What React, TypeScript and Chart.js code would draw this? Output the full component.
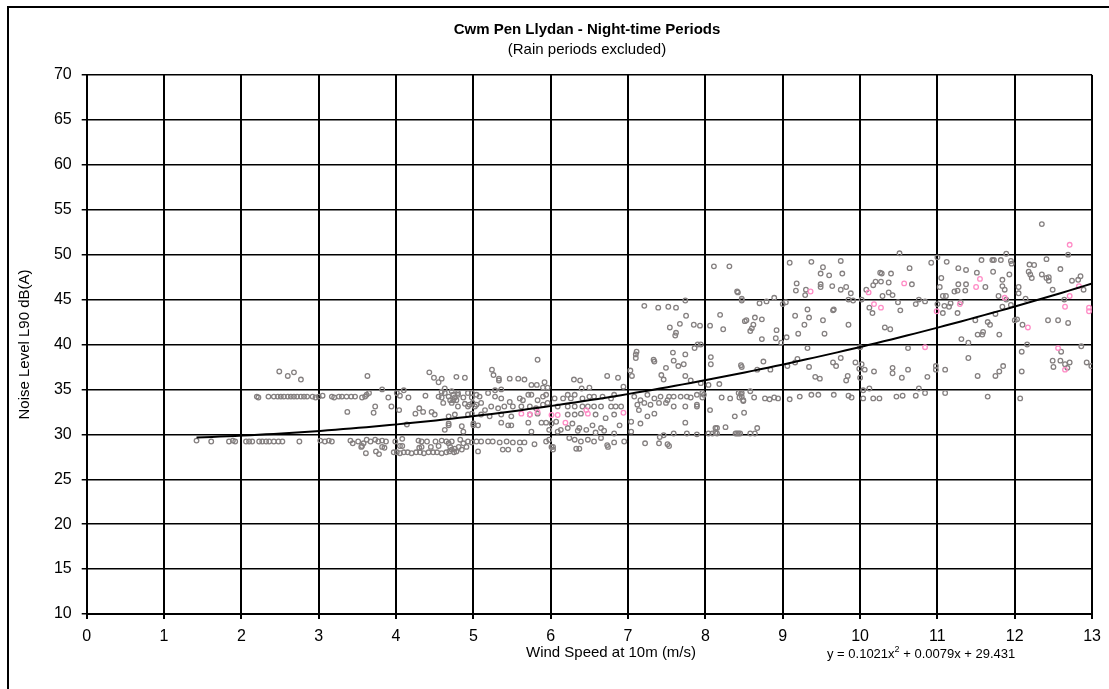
import React, { useEffect, useRef } from "react";
import { Chart, registerables } from "chart.js";

Chart.register(...registerables);

const TITLE = "Cwm Pen Llydan - Night-time Periods";
const SUBTITLE = "(Rain periods excluded)";
const X_TITLE = "Wind Speed at 10m (m/s)";
const Y_TITLE = "Noise Level L90 dB(A)";

const X_MIN = 0;
const X_MAX = 13;
const Y_MIN = 10;
const Y_MAX = 70;

// polynomial trend shown on the chart: y = a x^2 + b x + c
const TREND_A = 0.1021;
const TREND_B = 0.0079;
const TREND_C = 29.431;
const TREND_START = 1.42;

// measured periods: [wind speed m/s, L90 dB(A)]
const greyPoints: [number, number][] = [
  // ~29 dB row, low wind
  [1.42, 29.3], [1.61, 29.2], [1.84, 29.2], [1.89, 29.3], [1.92, 29.2], [2.06, 29.2], [2.10, 29.2], [2.14, 29.2],
  [2.23, 29.2], [2.27, 29.2], [2.32, 29.2], [2.36, 29.2], [2.42, 29.2], [2.48, 29.2], [2.53, 29.2], [2.75, 29.2],
  [3.02, 29.3], [3.08, 29.2], [3.13, 29.3], [3.17, 29.2], [3.41, 29.3], [3.44, 29.0], [3.51, 29.2], [3.62, 29.4],
  [3.67, 29.2], [3.73, 29.4], [3.77, 29.2], [3.82, 29.3], [3.87, 29.2], [3.99, 29.2], [4.08, 29.5], [4.29, 29.3],
  [4.33, 29.2], [4.40, 29.2], [4.51, 29.2], [4.59, 29.3], [4.65, 29.2],
  // ~28 dB row
  [3.61, 27.9], [3.74, 28.1], [3.78, 27.8], [3.97, 28.0], [4.01, 28.0], [4.05, 27.9], [4.10, 28.0], [4.15, 28.0],
  [4.20, 27.9], [4.26, 28.0], [4.31, 28.0], [4.36, 27.9], [4.42, 28.0], [4.48, 28.0], [4.53, 28.0], [4.59, 27.9],
  [4.65, 28.0], [4.69, 28.1], [4.75, 28.0], [3.55, 28.6], [3.85, 28.5], [4.05, 28.7], [4.30, 28.5], [4.45, 28.6],
  [3.58, 29.0], [3.56, 28.7], [3.82, 28.6], [4.08, 28.7], [4.33, 28.6], [4.55, 28.7],
  // ~34 dB row, low wind
  [2.20, 34.2], [2.22, 34.1], [2.35, 34.2], [2.42, 34.2], [2.47, 34.2], [2.51, 34.2], [2.55, 34.2], [2.60, 34.2],
  [2.64, 34.2], [2.68, 34.2], [2.72, 34.2], [2.77, 34.2], [2.81, 34.2], [2.85, 34.2], [2.92, 34.2], [2.96, 34.1],
  [3.00, 34.2], [3.05, 34.3], [3.17, 34.2], [3.20, 34.1], [3.26, 34.2], [3.30, 34.2], [3.36, 34.2], [3.42, 34.2],
  [3.47, 34.2], [3.56, 34.1], [3.60, 34.2], [3.62, 34.4], [3.65, 34.6], [3.82, 35.0], [3.90, 34.1], [4.01, 34.6],
  [4.05, 34.3], [4.10, 34.9], [4.16, 34.1], [4.38, 34.3], [4.55, 34.2], [4.59, 34.1], [4.63, 34.6], [4.68, 34.2],
  [4.72, 34.8], [4.76, 34.1], [4.80, 34.6], [4.87, 34.1], [4.93, 34.6], [4.98, 34.1], [5.04, 34.4],
  [4.59, 34.75], [4.63, 35.1], [4.70, 33.8], [4.74, 34.4], [4.78, 33.8], [4.89, 33.4], [4.95, 33.3], [4.99, 33.5],
  // upper scatter, low wind
  [2.49, 37.0], [2.60, 36.5], [2.68, 36.9], [2.77, 36.1], [3.63, 36.5], [4.43, 36.9], [4.49, 36.3], [4.55, 35.8],
  [4.59, 36.2], [4.78, 36.4], [4.89, 36.3],
  // middle scatter, low wind
  [3.37, 32.5], [3.73, 33.1], [3.71, 32.4], [3.94, 33.1], [4.04, 32.7], [4.14, 31.1], [4.25, 32.3], [4.30, 32.9],
  [4.35, 32.5], [4.46, 32.5], [4.50, 32.2], [4.61, 33.5], [4.68, 31.2], [4.63, 30.5], [4.85, 30.9], [4.87, 30.3],
  [4.93, 32.2], [5.00, 31.2], [5.04, 33.3],
  // 4.7 - 4.9 cluster
  [4.68, 29.0], [4.70, 28.6], [4.72, 28.3], [4.76, 28.4], [4.78, 28.1], [4.81, 28.6], [4.85, 28.3], [4.87, 29.0],
  [4.91, 28.6], [4.93, 29.2], [4.72, 29.2], [4.83, 29.4], [4.68, 31.0], [4.74, 33.8], [4.80, 34.4], [4.72, 33.5],
  [4.80, 33.1], [4.68, 32.0], [4.76, 32.2],
  // 5 - 8.5, 34 dB band
  [4.98, 34.6], [5.08, 34.2], [5.19, 34.6], [5.28, 34.9], [5.36, 35.0], [5.28, 34.2], [5.36, 34.0], [5.47, 33.6],
  [5.60, 34.0], [5.64, 33.8], [5.71, 34.4], [5.75, 34.4], [5.83, 33.8], [5.90, 34.2], [5.94, 34.4], [6.05, 34.0],
  [6.16, 34.0], [6.22, 34.4], [6.26, 34.0], [6.31, 34.4], [6.41, 34.0], [6.50, 34.2], [6.56, 34.2], [6.67, 34.2],
  [6.78, 34.0], [6.82, 34.4], [7.08, 34.2], [7.16, 33.8], [7.25, 34.4], [7.34, 34.0], [7.42, 34.2], [7.51, 33.8],
  [7.53, 34.2], [7.59, 34.2], [7.68, 34.2], [7.76, 34.2], [7.81, 34.1], [7.89, 34.4], [7.98, 34.4], [8.21, 34.1],
  [8.32, 34.0], [8.47, 34.6], [8.49, 33.8],
  // 33 dB band
  [4.93, 33.1], [5.02, 33.1], [5.10, 33.5], [5.15, 32.7], [5.23, 33.1], [5.32, 32.9], [5.40, 33.1], [5.51, 33.1],
  [5.62, 33.1], [5.73, 33.1], [5.81, 32.9], [5.90, 33.3], [5.96, 33.5], [6.09, 33.1], [6.22, 33.1], [6.31, 33.1],
  [6.41, 33.1], [6.48, 33.1], [6.56, 33.1], [6.65, 33.1], [6.78, 33.1], [6.84, 33.1], [6.91, 33.1], [7.12, 33.3],
  [7.21, 33.5], [7.29, 33.3], [7.40, 33.5], [7.49, 33.5], [7.59, 33.1], [7.74, 33.1], [7.89, 33.1], [8.06, 32.7],
  // 32 dB band
  [4.98, 32.3], [5.10, 32.2], [5.21, 32.0], [5.36, 32.2], [5.49, 32.0], [5.73, 32.2], [5.83, 32.3], [6.22, 32.2],
  [6.31, 32.2], [6.39, 32.3], [6.58, 32.2], [6.71, 31.8], [6.82, 32.2], [7.14, 32.7], [7.25, 32.0], [7.34, 32.3],
  // 31 dB band
  [5.00, 31.0], [5.06, 31.0], [5.36, 31.3], [5.45, 31.0], [5.49, 31.0], [5.71, 31.3], [5.88, 31.3], [5.94, 31.3],
  [6.01, 31.2], [6.07, 31.4], [6.28, 31.2], [6.37, 30.7], [6.54, 31.0], [6.65, 30.7], [6.89, 31.0], [7.04, 31.4],
  [7.16, 31.2], [7.74, 31.3], [8.13, 30.7], [8.26, 30.8],
  // 30 dB band
  [5.75, 30.3], [5.98, 30.5], [6.09, 30.3], [6.13, 30.5], [6.22, 30.7], [6.35, 30.4], [6.46, 30.5], [6.58, 30.2],
  [6.69, 30.4], [6.82, 30.1], [7.04, 30.3], [7.41, 29.7], [7.46, 29.9], [7.59, 30.1], [7.76, 30.1], [7.89, 30.0],
  [8.09, 30.1], [8.15, 30.1], [8.39, 30.1], [8.45, 30.1], [8.15, 30.7], [8.13, 30.2], [8.04, 30.1], [8.41, 30.1],
  [8.43, 30.1], [8.58, 30.1], [8.64, 30.1], [8.67, 30.7],
  // 29 dB band, mid wind
  [4.98, 29.1], [5.04, 29.2], [5.10, 29.2], [5.19, 29.2], [5.25, 29.2], [5.34, 29.1], [5.43, 29.2], [5.51, 29.1],
  [5.60, 29.1], [5.66, 29.1], [5.79, 28.9], [5.94, 29.2], [5.98, 29.4], [6.03, 28.6], [6.24, 29.6], [6.31, 29.4],
  [6.39, 29.2], [6.48, 29.4], [6.56, 29.2], [6.65, 29.6], [6.73, 28.8], [6.82, 29.1], [6.95, 29.2], [7.40, 29.0],
  [7.51, 28.9], [7.53, 28.7], [5.06, 28.1], [5.38, 28.3], [5.45, 28.3], [5.60, 28.3], [6.01, 28.6], [6.03, 28.3],
  [6.33, 28.4], [6.37, 28.4], [6.74, 28.6], [7.22, 29.0],
  // 35 - 40 dB, mid wind
  [5.24, 37.2], [5.26, 36.6], [5.33, 36.2], [5.33, 36.0], [5.47, 36.2], [5.58, 36.2], [5.66, 36.1], [5.83, 38.3],
  [5.92, 35.8], [5.75, 35.5], [5.82, 35.5], [5.90, 35.2], [5.96, 35.2], [6.30, 36.1], [6.38, 36.0], [6.40, 35.1],
  [6.50, 35.2], [6.73, 36.5], [6.87, 36.3], [6.94, 35.3], [7.03, 37.1], [7.05, 36.5], [7.11, 39.2], [7.10, 38.9],
  [7.10, 38.5], [7.33, 38.3], [7.34, 38.1], [7.49, 37.4], [7.43, 36.6], [7.46, 36.1], [7.58, 39.1], [7.59, 38.2],
  [7.65, 37.6], [7.72, 37.8], [7.74, 38.9], [7.86, 39.6], [7.90, 40.0], [7.94, 40.0], [7.74, 36.5], [7.81, 36.0],
  [7.94, 35.7], [8.07, 38.6], [8.07, 37.8], [8.46, 37.7], [8.04, 35.5], [8.18, 35.6],
  // 7 - 8.5 high band
  [7.21, 44.3], [7.39, 44.1], [7.52, 44.2], [7.62, 44.1], [7.74, 44.9], [7.75, 43.2], [7.67, 42.3], [7.54, 41.9],
  [7.62, 41.3], [7.61, 41.0], [7.85, 42.2], [7.93, 42.1], [8.06, 42.1], [8.19, 43.3], [8.23, 41.7], [8.51, 42.6],
  [8.11, 48.7], [8.31, 48.7], [8.42, 45.8], [8.47, 45.1], [8.47, 37.5], [7.96, 34.6], [7.96, 34.1], [7.89, 33.3],
  [8.44, 34.1], [8.46, 34.5], [8.49, 33.7], [8.58, 34.8], [8.38, 32.0], [8.50, 32.4],
  // 9 - 12, 45 - 50 dB
  [9.09, 49.1], [9.37, 49.2], [9.52, 48.6], [9.49, 47.9], [9.60, 47.7], [9.75, 49.3], [9.77, 47.9], [9.18, 46.8],
  [9.17, 46.0], [9.30, 46.1], [9.29, 45.5], [9.49, 46.7], [9.49, 46.4], [9.64, 46.5], [9.75, 46.1], [9.82, 46.4],
  [9.88, 45.7], [9.85, 45.0], [9.91, 44.9], [10.08, 46.1], [10.17, 46.6], [10.20, 47.0], [10.26, 48.0], [10.28, 47.9],
  [10.40, 47.9], [10.27, 47.0], [10.37, 46.9], [10.51, 50.15], [10.64, 48.5], [10.67, 46.7], [10.29, 45.4], [10.37, 45.8],
  [10.42, 45.5], [10.76, 45.0], [10.84, 44.8], [10.92, 49.1], [11.00, 49.7], [11.12, 49.2], [11.05, 47.4], [11.03, 46.4],
  [11.07, 45.4], [11.11, 45.4], [11.22, 45.9], [11.26, 46.0], [11.27, 46.7], [11.37, 46.7], [11.36, 46.0], [11.27, 48.5],
  [11.37, 48.3], [11.51, 48.0], [11.57, 49.4], [11.62, 46.4], [11.71, 49.4], [11.73, 49.4], [11.82, 49.4], [11.89, 50.1],
  [11.95, 49.3], [11.96, 49.0], [11.72, 48.1], [11.93, 47.8], [11.84, 47.2], [11.84, 46.5], [11.87, 46.1], [11.79, 45.4],
  [11.89, 45.0],
  // 8.4 - 12, 40 - 45 dB
  [8.47, 44.9], [8.41, 45.9], [8.70, 44.6], [8.79, 44.8], [8.89, 45.2], [9.00, 44.5], [9.04, 44.7], [8.53, 42.7],
  [8.64, 43.0], [8.73, 42.8], [8.62, 42.2], [8.60, 41.8], [8.58, 41.5], [8.73, 40.6], [8.92, 41.6], [8.91, 40.7],
  [9.05, 40.8], [8.98, 40.2], [9.16, 43.2], [9.20, 41.2], [9.28, 42.2], [9.32, 43.9], [9.34, 43.0], [9.52, 42.7],
  [9.54, 41.2], [9.65, 43.8], [9.66, 43.9], [9.85, 42.2], [10.02, 45.0], [10.12, 44.1], [10.16, 43.5], [10.32, 41.9],
  [10.39, 41.7], [10.49, 44.7], [10.52, 43.8], [10.72, 44.5], [11.00, 44.5], [11.07, 43.5], [11.09, 44.3], [11.17, 44.6],
  [11.15, 44.2], [11.26, 43.5], [11.30, 44.7], [11.49, 42.7], [11.52, 41.1], [11.58, 41.1], [11.59, 41.4], [11.65, 42.5],
  [11.68, 42.2], [11.80, 41.1], [11.75, 43.4], [11.84, 44.2], [11.95, 44.4], [12.00, 42.7], [10.62, 39.6], [11.31, 40.6],
  [11.40, 40.2],
  // 8.6 - 12, 35 - 40 dB
  [9.32, 39.6], [9.19, 38.4], [9.06, 37.6], [9.16, 38.0], [9.34, 37.5], [9.42, 36.4], [9.48, 36.2], [9.65, 38.0],
  [9.69, 37.6], [9.75, 38.5], [9.84, 36.5], [9.82, 36.0], [9.94, 38.0], [9.99, 37.3], [10.02, 37.8], [10.06, 37.2],
  [10.00, 36.3], [10.18, 37.0], [10.00, 39.7], [10.42, 37.4], [10.42, 36.8], [10.54, 36.3], [10.62, 37.2], [10.87, 36.4],
  [10.98, 37.6], [10.98, 37.2], [11.10, 37.2], [11.40, 38.5], [11.52, 36.5], [11.75, 36.5], [11.80, 37.0], [11.85, 37.6],
  [8.75, 38.1], [8.67, 37.2], [8.84, 37.2],
  // 8.4 - 12, ~34 dB
  [10.76, 35.1], [10.04, 34.9], [10.12, 35.1], [11.10, 34.6], [10.84, 34.6], [10.72, 34.3], [10.47, 34.2], [10.55, 34.3],
  [10.25, 34.0], [10.17, 34.0], [10.04, 34.0], [9.85, 34.3], [9.89, 34.1], [9.66, 34.4], [9.46, 34.4], [9.37, 34.4],
  [9.22, 34.2], [9.09, 33.9], [8.94, 34.0], [8.89, 34.1], [8.83, 33.9], [8.77, 34.0], [8.63, 34.1], [8.47, 34.2],
  [8.43, 34.6], [11.65, 34.2], [12.07, 34.0],
  // 12 - 13
  [12.69, 50.0], [12.41, 49.5], [12.19, 48.9], [12.25, 48.85], [12.18, 48.1], [12.20, 47.8], [12.22, 47.4], [12.35, 47.8],
  [12.41, 47.4], [12.44, 47.5], [12.44, 47.1], [12.59, 48.4], [12.74, 47.1], [12.82, 47.2], [12.85, 47.6], [12.89, 46.1],
  [12.49, 46.1], [12.64, 45.0], [12.05, 46.4], [12.05, 45.7], [12.14, 45.1], [12.03, 42.8], [12.10, 42.2], [12.43, 42.7],
  [12.56, 42.7], [12.69, 42.4], [12.16, 40.0], [12.09, 39.2], [12.60, 39.2], [12.86, 39.8], [12.49, 38.2], [12.59, 38.2],
  [12.65, 37.8], [12.68, 37.4], [12.71, 38.0], [12.50, 37.5], [12.93, 38.0], [12.99, 37.6], [12.09, 37.0], [12.35, 53.4],
];

const pinkPoints: [number, number][] = [
  [5.62, 32.3], [5.73, 32.2], [5.83, 32.5], [6.01, 32.15], [6.09, 32.15], [6.19, 31.3], [6.46, 32.7], [6.48, 32.3],
  [6.94, 32.4], [9.36, 45.9], [10.11, 45.8], [10.18, 44.5], [10.27, 44.1], [10.57, 46.8], [10.84, 39.7], [10.99, 43.7],
  [11.29, 44.5], [11.50, 46.4], [11.55, 47.3], [11.87, 45.2], [12.17, 41.9], [12.56, 39.6], [12.71, 51.1], [12.71, 45.4],
  [12.65, 44.2], [12.83, 46.5], [12.96, 44.1], [12.96, 43.7], [12.65, 37.2],
];

const FONT = '"Liberation Sans", Arial, sans-serif';

const decorPlugin = {
  id: "decor",
  afterDraw(chart: any) {
    const ctx = chart.ctx as CanvasRenderingContext2D;
    const { top, bottom } = chart.chartArea;
    ctx.save();
    ctx.strokeStyle = "#000";
    ctx.lineWidth = 2;
    ctx.strokeRect(8, 7, 1400, 1000);
    ctx.fillStyle = "#000";
    ctx.textAlign = "center";
    ctx.textBaseline = "middle";
    ctx.font = `bold 15px ${FONT}`;
    ctx.fillText(TITLE, 587, 30);
    ctx.font = `15px ${FONT}`;
    ctx.fillText(SUBTITLE, 587, 50);
    ctx.fillText(X_TITLE, 611, 653);
    ctx.save();
    ctx.translate(25, (top + bottom) / 2);
    ctx.rotate(-Math.PI / 2);
    ctx.fillText(Y_TITLE, 0, 0);
    ctx.restore();
    // trendline equation
    ctx.textAlign = "left";
    ctx.textBaseline = "alphabetic";
    let x = 827;
    const base = 658;
    const p1 = `y = ${TREND_A}x`;
    ctx.font = `13px ${FONT}`;
    ctx.fillText(p1, x, base);
    x += ctx.measureText(p1).width;
    ctx.font = `9px ${FONT}`;
    ctx.fillText("2", x, base - 6);
    x += ctx.measureText("2").width;
    ctx.font = `13px ${FONT}`;
    ctx.fillText(` + ${TREND_B.toFixed(4)}x + ${TREND_C}`, x, base);
    ctx.restore();
  },
};

export default function App() {
  const ref = useRef<HTMLCanvasElement>(null);

  useEffect(() => {
    if (!ref.current) return;
    const trend: { x: number; y: number }[] = [];
    for (let i = 0; i <= 116; i++) {
      const x = TREND_START + ((X_MAX - TREND_START) * i) / 116;
      trend.push({ x, y: TREND_A * x * x + TREND_B * x + TREND_C });
    }
    const chart = new Chart(ref.current, {
      type: "scatter",
      data: {
        datasets: [
          {
            type: "line",
            data: trend,
            borderColor: "#000",
            borderWidth: 2,
            pointRadius: 0,
            fill: false,
            tension: 0,
          } as any,
          {
            data: pinkPoints.map(([x, y]) => ({ x, y })),
            pointRadius: 2.3,
            pointBorderWidth: 1.3,
            borderColor: "#ff8cc6",
            backgroundColor: "rgba(0,0,0,0)",
          },
          {
            data: greyPoints.map(([x, y]) => ({ x, y })),
            pointRadius: 2.3,
            pointBorderWidth: 1.3,
            borderColor: "#858080",
            backgroundColor: "rgba(0,0,0,0)",
          },
        ],
      },
      options: {
        responsive: false,
        animation: false,
        events: [],
        layout: { padding: { left: 26.7, right: 12.3, top: 75, bottom: 25 } },
        plugins: {
          legend: { display: false },
          tooltip: { enabled: false },
          title: { display: false },
        },
        scales: {
          x: {
            type: "linear",
            min: X_MIN,
            max: X_MAX,
            ticks: { stepSize: 1, color: "#000", font: { family: FONT, size: 16 }, padding: 8, maxRotation: 0 },
            grid: { color: "#000", lineWidth: 2, tickLength: 5 },
            border: { color: "#000", width: 2 },
            afterFit: (s: any) => {
              s.height = 50;
            },
          },
          y: {
            type: "linear",
            min: Y_MIN,
            max: Y_MAX,
            ticks: { stepSize: 5, color: "#000", font: { family: FONT, size: 16 }, padding: 10 },
            grid: { color: "#000", lineWidth: 1.5, tickLength: 5 },
            border: { color: "#000", width: 2 },
            afterFit: (s: any) => {
              s.width = 60;
            },
          },
        },
      },
      plugins: [decorPlugin],
    });
    return () => chart.destroy();
  }, []);

  return (
    <div style={{ position: "fixed", left: 0, top: 0, width: 1109, height: 689, background: "#fff" }}>
      <canvas ref={ref} width={1109} height={689} style={{ display: "block" }} />
    </div>
  );
}
